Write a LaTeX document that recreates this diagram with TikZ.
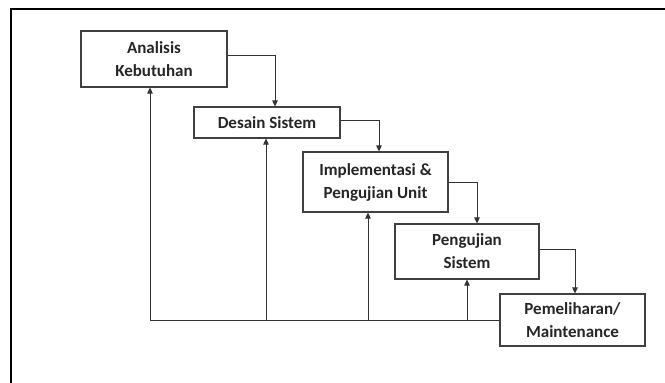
\documentclass[tikz,border=0pt]{standalone}
\usepackage{fontspec}
\setmainfont{Carlito}
\usetikzlibrary{arrows.meta}
\begin{document}
\begin{tikzpicture}[x=1pt,y=-1pt,
  stage/.style={draw=black!75, line width=1.1pt, fill=white, align=center, inner sep=0pt,
    font=\fontsize{17}{23}\selectfont\bfseries, text=black!85},
  flow/.style={draw=black!80, line width=0.9pt, -{Triangle[length=6pt,width=5.5pt]}},
  frameline/.style={draw=black, line width=2pt}]
\useasboundingbox (0,0) rectangle (665,383);
\fill[white] (0,0) rectangle (665,383);
\draw[frameline] (665,9) -- (11,9) -- (11,383);
\node[stage, minimum width=146pt, minimum height=56pt] (A) at (154,59) {Analisis\\Kebutuhan};
\node[stage, minimum width=146pt, minimum height=31pt] (D) at (267,122.5) {Desain Sistem};
\node[stage, minimum width=145pt, minimum height=60pt] (I) at (375.5,182) {Implementasi \&\\Pengujian Unit};
\node[stage, minimum width=144pt, minimum height=55pt] (P) at (467,251.5) {Pengujian\\Sistem};
\node[stage, minimum width=145pt, minimum height=52pt] (M) at (572.5,320) {Pemeliharan/\\Maintenance};
% forward flow
\draw[flow] ([yshift=4pt]A.east) -| ([xshift=8pt]D.north);
\draw[flow] ([yshift=2.5pt]D.east) -| ([xshift=3.5pt]I.north);
\draw[flow] (I.east) -| ([xshift=10pt]P.north);
\draw[flow] ([yshift=2.5pt]P.east) -| ([xshift=2.5pt]M.north);
% feedback
\coordinate (fA) at ([xshift=-4pt]A.south |- M.west);
\coordinate (fD) at ([xshift=-1pt]D.south |- M.west);
\coordinate (fI) at ([xshift=-7.5pt]I.south |- M.west);
\coordinate (fP) at (P.south |- M.west);
\draw[draw=black!80, line width=0.9pt] (M.west) -- (fA);
\draw[flow] (fA) -- ([xshift=-4pt]A.south);
\draw[flow] (fD) -- ([xshift=-1pt]D.south);
\draw[flow] (fI) -- ([xshift=-7.5pt]I.south);
\draw[flow] (fP) -- (P.south);
\end{tikzpicture}
\end{document}
